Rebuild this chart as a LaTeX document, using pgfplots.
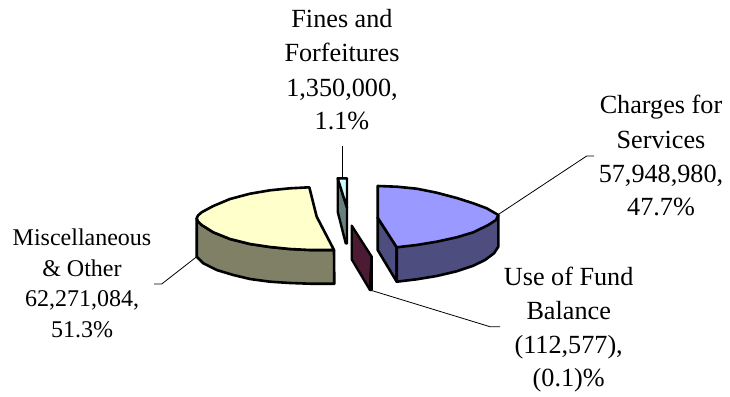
\documentclass[border=0pt]{standalone}
\usepackage{pgfplots}
\usepackage{fontspec}
\pgfplotsset{compat=1.18}
\setmainfont{Liberation Serif}
\definecolor{bluetop}{HTML}{9999FF}
\definecolor{blueside}{HTML}{4D4D80}
\definecolor{yellowtop}{HTML}{FFFFCC}
\definecolor{yellowside}{HTML}{808066}
\definecolor{cyantop}{HTML}{CCFFFF}
\definecolor{cyanside}{HTML}{668080}
\definecolor{maroonside}{HTML}{4D1A33}
\tikzset{
  slicelabel/.style={font=\fontsize{26.2}{30}\selectfont, inner sep=0pt, anchor=base},
  smalllabel/.style={font=\fontsize{24}{28}\selectfont, inner sep=0pt, anchor=base},
}
\begin{document}
\begin{tikzpicture}
\useasboundingbox (0,0) rectangle (730pt,396pt);
\begin{axis}[
  at={(0,0)}, anchor=south west,
  scale only axis, width=730pt, height=396pt,
  xmin=0, xmax=730, ymin=0, ymax=396, y dir=reverse,
  axis lines=none, clip=false, tick style={draw=none},
  every axis plot/.append style={line join=round, mark=none},
]
% leader lines
\addplot[black, line width=0.8pt] coordinates {(342,146) (342,178)};
\addplot[black, line width=0.8pt] coordinates {(499,214) (586.7,156) (594,156)};
\addplot[black, line width=0.8pt] coordinates {(196.7,256.7) (161.7,284) (154,284)};
\addplot[black, line width=0.8pt] coordinates {(370,290) (490,326.7) (500,326.7)};

% Charges for Services: cut face, side wall, top
\addplot[draw=black, line width=2.6pt, fill=blueside] coordinates {
  (377.7,217.7) (396.7,247.3) (396.7,281.7) (377.7,250)} -- cycle;
\addplot[draw=black, line width=2.6pt, fill=blueside] coordinates {
  (498.3,215) (498.3,246.7) (494,253.3) (485,260) (473.3,265.7) (456.7,271.3)
  (436.7,276) (416.7,279.3) (396.7,281.7) (396.7,247.3)} -- cycle;
\addplot[draw=black, line width=2.6pt, fill=bluetop] coordinates {
  (377.7,186) (396.7,186.7) (416.7,188.7) (436.7,192.7) (456.7,198) (473.3,203.3)
  (486.7,208.3) (498.3,215) (496,220) (488.3,225) (473.3,232.3) (456.7,237.3)
  (436.7,241.7) (416.7,245) (396.7,247.3) (377.7,217.7)} -- cycle;

% Miscellaneous & Other
\addplot[draw=black, line width=2.6pt, fill=yellowside] coordinates {
  (196.7,218.3) (196.7,256.7) (203.3,263.3) (216.7,270) (233.3,275) (250,279)
  (270,281.7) (290,283) (310,283.7) (334.3,283.7) (334,250) (310,250) (290,249)
  (270,247) (250,244) (230,239) (213.3,232.3) (201.7,225)} -- cycle;
\addplot[draw=black, line width=2.6pt, fill=yellowtop] coordinates {
  (309.3,187.3) (290,188.3) (270,190.3) (250,193.7) (230,199) (213.3,206)
  (201.7,212.2) (198,215.5) (196.7,218.3) (198,221.5) (201.7,225) (213.3,232.3)
  (230,239) (250,244) (270,247) (290,249) (310,250) (334,250) (316.7,216.7)} -- cycle;

% Fines and Forfeitures
\addplot[draw=black, line width=2.4pt, fill=cyanside] coordinates {
  (337.7,178.3) (347,207.7) (347,243.3) (345.7,243.3) (337.7,211.7)} -- cycle;
\addplot[draw=black, line width=2.4pt, fill=cyantop] coordinates {
  (337.7,178.3) (347,178.3) (347,207.7)} -- cycle;

% Use of Fund Balance
\addplot[draw=black, line width=2.4pt, fill=maroonside] coordinates {
  (351.7,225.7) (371.7,256.7) (370,290) (351.7,259.3)} -- cycle;
\addplot[draw=black, line width=2.4pt, fill=black] coordinates {
  (371.7,256.7) (371.7,290) (370,290)} -- cycle;

% slice labels
\node[slicelabel] at (axis cs:342,27.7) {Fines and};
\node[slicelabel] at (axis cs:342,61.7) {Forfeitures};
\node[slicelabel] at (axis cs:342,96.7) {1,350,000,};
\node[slicelabel] at (axis cs:342,129.3) {1.1\%};
\node[slicelabel] at (axis cs:661,113.3) {Charges for};
\node[slicelabel] at (axis cs:661,148) {Services};
\node[slicelabel] at (axis cs:661,182) {57,948,980,};
\node[slicelabel] at (axis cs:661,215.7) {47.7\%};
\node[smalllabel] at (axis cs:82,245) {Miscellaneous};
\node[smalllabel] at (axis cs:82,276) {\& Other};
\node[smalllabel] at (axis cs:82,306.7) {62,271,084,};
\node[smalllabel] at (axis cs:82,337.3) {51.3\%};
\node[slicelabel] at (axis cs:568.7,285) {Use of Fund};
\node[slicelabel] at (axis cs:568.7,319) {Balance};
\node[slicelabel] at (axis cs:568.7,353.3) {(112,577),};
\node[slicelabel] at (axis cs:568.7,386.7) {(0.1)\%};
\end{axis}
\end{tikzpicture}
\end{document}
